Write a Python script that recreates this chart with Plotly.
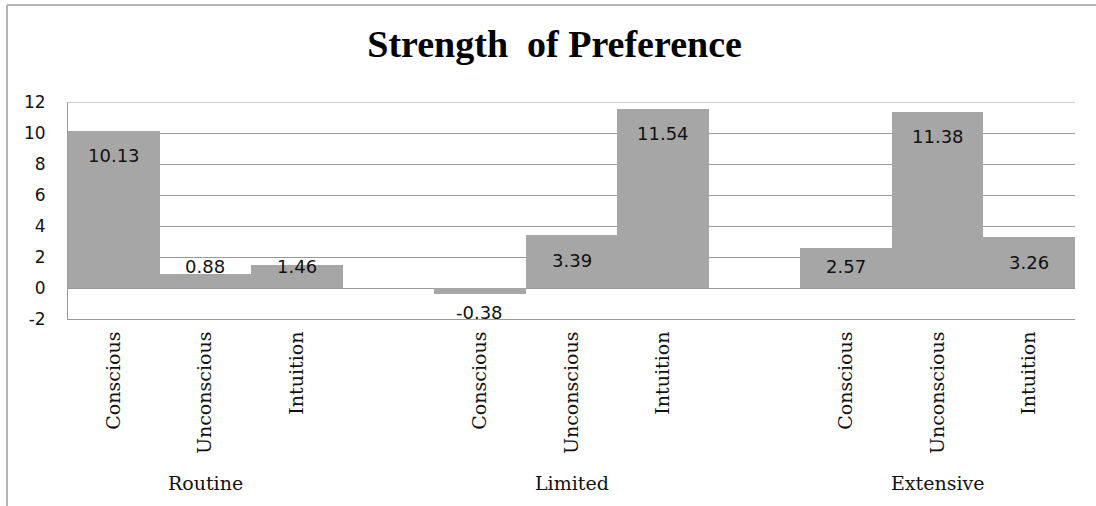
import plotly.graph_objects as go

# Decision-process groups and preference types
groups = ["Routine", "Limited", "Extensive"]
types = ["Conscious", "Unconscious", "Intuition"]

# Strength-of-preference scores per group (Conscious, Unconscious, Intuition)
routine_vals = [10.13, 0.88, 1.46]
limited_vals = [-0.38, 3.39, 11.54]
extensive_vals = [2.57, 11.38, 3.26]

y_ticks = [-2, 0, 2, 4, 6, 8, 10, 12]
y_tick_text = ["-2", "0", "2", "4", "6", "8", "10", "12"]

group_values = [routine_vals, limited_vals, extensive_vals]

# Each group takes three slots, with an empty slot between groups
xs, ys, tick_text = [], [], []
for g, vals in enumerate(group_values):
    for j, v in enumerate(vals):
        xs.append(g * 4 + j)
        ys.append(v)
        tick_text.append(types[j])

BAR = "#a6a6a6"
GRID = "#999999"

fig = go.Figure(
    go.Bar(
        x=xs,
        y=ys,
        width=1.0,
        marker=dict(color=BAR, line=dict(width=0)),
        hoverinfo="x+y",
    )
)

# Value labels: inside the top of each bar, kept clear of the baseline
for x, v in zip(xs, ys):
    if v >= 0:
        ly = max(v - 1.6, 1.4)
    else:
        ly = v - 1.2
    fig.add_annotation(
        x=x, y=ly, xref="x", yref="y",
        text=f"{v:.2f}".replace("\u2212", "-"), showarrow=False,
        font=dict(family="DejaVu Sans", size=18, color="#111111"),
        xanchor="center", yanchor="middle",
    )

# Group names under the rotated category labels
for g, name in enumerate(groups):
    fig.add_annotation(
        x=g * 4 + 1, y=-0.756, xref="x", yref="paper",
        text=name, showarrow=False,
        font=dict(family="DejaVu Serif", size=19, color="#111111"),
        xanchor="center", yanchor="middle",
    )

# Top edge of the plot area at the highest tick
fig.add_shape(type="line", xref="paper", yref="y",
              x0=0, x1=1, y0=y_ticks[-1], y1=y_ticks[-1],
              line=dict(color=GRID, width=1), layer="below")

# Outer chart frame (left and top edges)
L, R, T, B = 68, 21, 102, 187
pw, ph = 1096 - L - R, 506 - T - B
fx = (7 - L) / pw
fy = (506 - B - 5) / ph
fig.add_shape(type="line", xref="paper", yref="paper",
              x0=fx, x1=(1100 - L) / pw, y0=fy, y1=fy,
              line=dict(color="#b4b4b4", width=2))
fig.add_shape(type="line", xref="paper", yref="paper",
              x0=fx, x1=fx, y0=fy, y1=(506 - B - 510) / ph,
              line=dict(color="#b4b4b4", width=2))

fig.update_layout(
    width=1096,
    height=506,
    margin=dict(l=L, r=R, t=T, b=B),
    paper_bgcolor="white",
    plot_bgcolor="white",
    showlegend=False,
    bargap=0,
    title=dict(
        text="<b>Strength&nbsp; of Preference</b>",
        font=dict(family="Liberation Serif", size=38, color="#000000"),
        x=0.506, xref="container", xanchor="center",
        y=1 - 44 / 506, yref="container", yanchor="middle",
    ),
    xaxis=dict(
        range=[-0.5, 10.5],
        tickvals=xs,
        ticktext=tick_text,
        tickangle=-90,
        tickfont=dict(family="DejaVu Serif", size=19, color="#111111"),
        showgrid=False,
        zeroline=False,
        showline=True,
        linecolor=GRID,
        linewidth=1,
        ticks="",
        ticklabelstandoff=4,
        fixedrange=True,
    ),
    yaxis=dict(
        range=[-2, 12],
        tickvals=y_ticks,
        ticktext=y_tick_text,
        tickfont=dict(family="DejaVu Sans", size=17, color="#111111"),
        showgrid=True,
        gridcolor=GRID,
        gridwidth=1,
        zeroline=False,
        showline=True,
        linecolor=GRID,
        linewidth=1,
        ticks="",
        ticklabelstandoff=18,
        fixedrange=True,
    ),
)

fig.write_html("out.html")
